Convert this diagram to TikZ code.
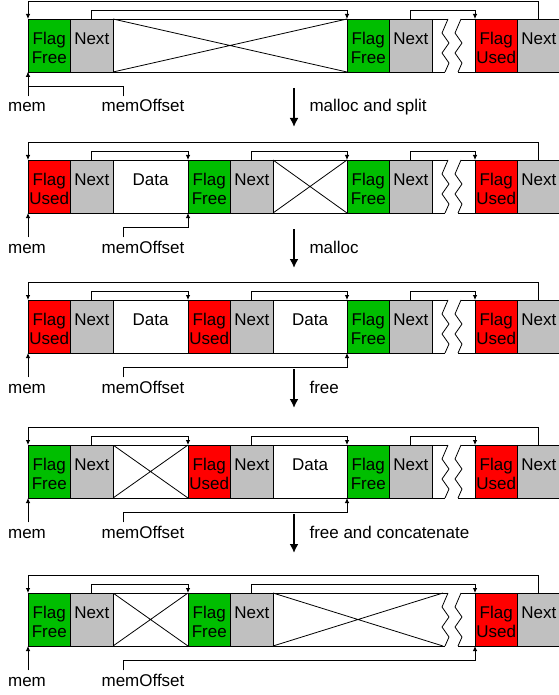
\documentclass[tikz,border=0pt]{standalone}
\usepackage{fontspec}
\setmainfont{Liberation Sans}
\usetikzlibrary{arrows.meta,positioning}
\definecolor{flaggreen}{RGB}{0,190,0}
\definecolor{flagred}{RGB}{255,0,0}
\definecolor{nextgray}{RGB}{192,192,192}

\begin{document}
\begin{tikzpicture}[x=1pt,y=-1pt,>={Latex[length=5pt,width=4.5pt]},font=\fontsize{17}{19}\selectfont]
	\tikzstyle{cell} = [draw, rectangle, minimum height=53pt, inner sep=0pt, outer sep=0pt, text height=13pt, text depth=15pt, align=center, line width=0.8pt]
	\tikzstyle{flagfree} = [cell, fill=flaggreen, minimum width=42.5pt, text height=36pt, text depth=0pt]
	\tikzstyle{flagused} = [cell, fill=flagred, minimum width=42.5pt, text height=36pt, text depth=0pt]
	\tikzstyle{nextptr} = [cell, fill=nextgray, minimum width=42.5pt]
	\tikzstyle{databox} = [cell, fill=white]
	\tikzstyle{gapbox} = [cell, fill=white, minimum width=43pt]
	\tikzstyle{holebox} = [cell, fill=white, path picture={\draw (path picture bounding box.north west) -- (path picture bounding box.south east) (path picture bounding box.south west) -- (path picture bounding box.north east);}]
	\tikzstyle{lbl} = [anchor=base, text height=12pt]
	\tikzstyle{link} = [->, line width=0.8pt]
	\tikzstyle{stepline} = [-{Latex[length=9pt,width=9pt]}, line width=1.8pt]
	\tikzstyle{stepnote} = [anchor=base west]
	\tikzstyle{erase} = [white, line width=2pt]
	\tikzstyle{zig} = [line width=0.8pt, insert path={-- ++(-6,14) -- ++(7,10) -- ++(-7,10) -- ++(7,10) -- ++(-4,9)}]

	\useasboundingbox (0,0) rectangle (558,695);

	% row 1: one big free block
	\node [flagfree, anchor=north west] (r1flag1) at (28,19) {Flag\\Free};
	\node [nextptr, right=0pt of r1flag1] (r1next1) {Next};
	\node [holebox, minimum width=234pt, right=0pt of r1next1] (r1hole1) {};
	\node [flagfree, right=0pt of r1hole1] (r1flag2) {Flag\\Free};
	\node [nextptr, right=0pt of r1flag2] (r1next2) {Next};
	\node [gapbox, right=0pt of r1next2] (r1gap) {};
	\node [flagused, right=0pt of r1gap] (r1flag3) {Flag\\Used};
	\node [nextptr, right=0pt of r1flag3] (r1next3) {Next};

	\draw [erase] ([xshift=-27pt]r1flag3.north west) -- ++(13,0) ([xshift=-30pt]r1flag3.south west) -- ++(13,0);
	\draw ([xshift=-27pt]r1flag3.north west) [zig] ([xshift=-14pt]r1flag3.north west) [zig];

	\draw [link] (r1next1.north) -- ++(0,-9) -| (r1flag2.north west);
	\draw [link] (r1next2.north) -- ++(0,-9) -| (r1flag3.north west);
	\draw [link] (r1next3.north) -- ++(0,-18) -| (r1flag1.north west);

	\node [lbl] (r1mem) at (27,112) {mem};
	\node [lbl] (r1off) at (143,112) {memOffset};
	\draw [link] (r1mem.north -| r1flag1.south west) -- (r1flag1.south west);
	\draw [link] ([xshift=25pt]r1off.north west) -- ++(0,-10) -| (r1flag1.south west);

	\coordinate (s1top) at (294,88);
	\coordinate (s1end) at (294,127);
	\draw [stepline] (s1top) -- (s1end);
	\node [stepnote] (s1note) at (306,112) {malloc and split};

	% row 2
	\node [flagused, anchor=north west] (r2flag1) at (28,160) {Flag\\Used};
	\node [nextptr, right=0pt of r2flag1] (r2next1) {Next};
	\node [databox, minimum width=75pt, right=0pt of r2next1] (r2data1) {Data};
	\node [flagfree, right=0pt of r2data1] (r2flag2) {Flag\\Free};
	\node [nextptr, right=0pt of r2flag2] (r2next2) {Next};
	\node [holebox, minimum width=74pt, right=0pt of r2next2] (r2hole2) {};
	\node [flagfree, right=0pt of r2hole2] (r2flag3) {Flag\\Free};
	\node [nextptr, right=0pt of r2flag3] (r2next3) {Next};
	\node [gapbox, right=0pt of r2next3] (r2gap) {};
	\node [flagused, right=0pt of r2gap] (r2flag4) {Flag\\Used};
	\node [nextptr, right=0pt of r2flag4] (r2next4) {Next};

	\draw [erase] ([xshift=-27pt]r2flag4.north west) -- ++(13,0) ([xshift=-30pt]r2flag4.south west) -- ++(13,0);
	\draw ([xshift=-27pt]r2flag4.north west) [zig] ([xshift=-14pt]r2flag4.north west) [zig];

	\draw [link] (r2next1.north) -- ++(0,-9) -| (r2flag2.north west);
	\draw [link] (r2next2.north) -- ++(0,-9) -| (r2flag3.north west);
	\draw [link] (r2next3.north) -- ++(0,-9) -| (r2flag4.north west);
	\draw [link] (r2next4.north) -- ++(0,-18) -| (r2flag1.north west);

	\node [lbl] (r2mem) at (27,253) {mem};
	\node [lbl] (r2off) at (143,253) {memOffset};
	\draw [link] (r2mem.north -| r2flag1.south west) -- (r2flag1.south west);
	\draw [link] ([xshift=25pt]r2off.north west) -- ++(0,-10) -| (r2flag2.south west);

	\coordinate (s2top) at (294,229);
	\coordinate (s2end) at (294,268);
	\draw [stepline] (s2top) -- (s2end);
	\node [stepnote] (s2note) at (306,253) {malloc};

	% row 3
	\node [flagused, anchor=north west] (r3flag1) at (28,300) {Flag\\Used};
	\node [nextptr, right=0pt of r3flag1] (r3next1) {Next};
	\node [databox, minimum width=75pt, right=0pt of r3next1] (r3data1) {Data};
	\node [flagused, right=0pt of r3data1] (r3flag2) {Flag\\Used};
	\node [nextptr, right=0pt of r3flag2] (r3next2) {Next};
	\node [databox, minimum width=74pt, right=0pt of r3next2] (r3data2) {Data};
	\node [flagfree, right=0pt of r3data2] (r3flag3) {Flag\\Free};
	\node [nextptr, right=0pt of r3flag3] (r3next3) {Next};
	\node [gapbox, right=0pt of r3next3] (r3gap) {};
	\node [flagused, right=0pt of r3gap] (r3flag4) {Flag\\Used};
	\node [nextptr, right=0pt of r3flag4] (r3next4) {Next};

	\draw [erase] ([xshift=-27pt]r3flag4.north west) -- ++(13,0) ([xshift=-30pt]r3flag4.south west) -- ++(13,0);
	\draw ([xshift=-27pt]r3flag4.north west) [zig] ([xshift=-14pt]r3flag4.north west) [zig];

	\draw [link] (r3next1.north) -- ++(0,-9) -| (r3flag2.north west);
	\draw [link] (r3next2.north) -- ++(0,-9) -| (r3flag3.north west);
	\draw [link] (r3next3.north) -- ++(0,-9) -| (r3flag4.north west);
	\draw [link] (r3next4.north) -- ++(0,-18) -| (r3flag1.north west);

	\node [lbl] (r3mem) at (27,393) {mem};
	\node [lbl] (r3off) at (143,393) {memOffset};
	\draw [link] (r3mem.north -| r3flag1.south west) -- (r3flag1.south west);
	\draw [link] ([xshift=25pt]r3off.north west) -- ++(0,-10) -| (r3flag3.south west);

	\coordinate (s3top) at (294,369);
	\coordinate (s3end) at (294,408);
	\draw [stepline] (s3top) -- (s3end);
	\node [stepnote] (s3note) at (306,393) {free};

	% row 4
	\node [flagfree, anchor=north west] (r4flag1) at (28,445) {Flag\\Free};
	\node [nextptr, right=0pt of r4flag1] (r4next1) {Next};
	\node [holebox, minimum width=75pt, right=0pt of r4next1] (r4hole1) {};
	\node [flagused, right=0pt of r4hole1] (r4flag2) {Flag\\Used};
	\node [nextptr, right=0pt of r4flag2] (r4next2) {Next};
	\node [databox, minimum width=74pt, right=0pt of r4next2] (r4data2) {Data};
	\node [flagfree, right=0pt of r4data2] (r4flag3) {Flag\\Free};
	\node [nextptr, right=0pt of r4flag3] (r4next3) {Next};
	\node [gapbox, right=0pt of r4next3] (r4gap) {};
	\node [flagused, right=0pt of r4gap] (r4flag4) {Flag\\Used};
	\node [nextptr, right=0pt of r4flag4] (r4next4) {Next};

	\draw [erase] ([xshift=-27pt]r4flag4.north west) -- ++(13,0) ([xshift=-30pt]r4flag4.south west) -- ++(13,0);
	\draw ([xshift=-27pt]r4flag4.north west) [zig] ([xshift=-14pt]r4flag4.north west) [zig];

	\draw [link] (r4next1.north) -- ++(0,-9) -| (r4flag2.north west);
	\draw [link] (r4next2.north) -- ++(0,-9) -| (r4flag3.north west);
	\draw [link] (r4next3.north) -- ++(0,-9) -| (r4flag4.north west);
	\draw [link] (r4next4.north) -- ++(0,-18) -| (r4flag1.north west);

	\node [lbl] (r4mem) at (27,538) {mem};
	\node [lbl] (r4off) at (143,538) {memOffset};
	\draw [link] (r4mem.north -| r4flag1.south west) -- (r4flag1.south west);
	\draw [link] ([xshift=25pt]r4off.north west) -- ++(0,-10) -| (r4flag3.south west);

	\coordinate (s4top) at (294,514);
	\coordinate (s4end) at (294,553);
	\draw [stepline] (s4top) -- (s4end);
	\node [stepnote] (s4note) at (306,538) {free and concatenate};

	% row 5: free blocks joined
	\node [flagfree, anchor=north west] (r5flag1) at (28,593) {Flag\\Free};
	\node [nextptr, right=0pt of r5flag1] (r5next1) {Next};
	\node [holebox, minimum width=75pt, right=0pt of r5next1] (r5hole1) {};
	\node [flagfree, right=0pt of r5hole1] (r5flag2) {Flag\\Free};
	\node [nextptr, right=0pt of r5flag2] (r5next2) {Next};
	\node [databox, minimum width=202pt, right=0pt of r5next2] (r5hole2) {};
	\node [flagused, right=0pt of r5hole2] (r5flag3) {Flag\\Used};
	\node [nextptr, right=0pt of r5flag3] (r5next3) {Next};

	\draw [line width=0.8pt] (r5hole2.north west) -- ([xshift=-32pt]r5hole2.south east) (r5hole2.south west) -- ([xshift=-32pt]r5hole2.north east);
	\draw [erase] ([xshift=-27pt]r5flag3.north west) -- ++(13,0) ([xshift=-30pt]r5flag3.south west) -- ++(13,0);
	\draw ([xshift=-27pt]r5flag3.north west) [zig] ([xshift=-14pt]r5flag3.north west) [zig];

	\draw [link] (r5next1.north) -- ++(0,-9) -| (r5flag2.north west);
	\draw [link] (r5next2.north) -- ++(0,-9) -| (r5flag3.north west);
	\draw [link] (r5next3.north) -- ++(0,-18) -| (r5flag1.north west);

	\node [lbl] (r5mem) at (27,686) {mem};
	\node [lbl] (r5off) at (143,686) {memOffset};
	\draw [link] (r5mem.north -| r5flag1.south west) -- (r5flag1.south west);
	\draw [link] ([xshift=25pt]r5off.north west) -- ++(0,-10) -| (r5flag3.south west);
\end{tikzpicture}
\end{document}
